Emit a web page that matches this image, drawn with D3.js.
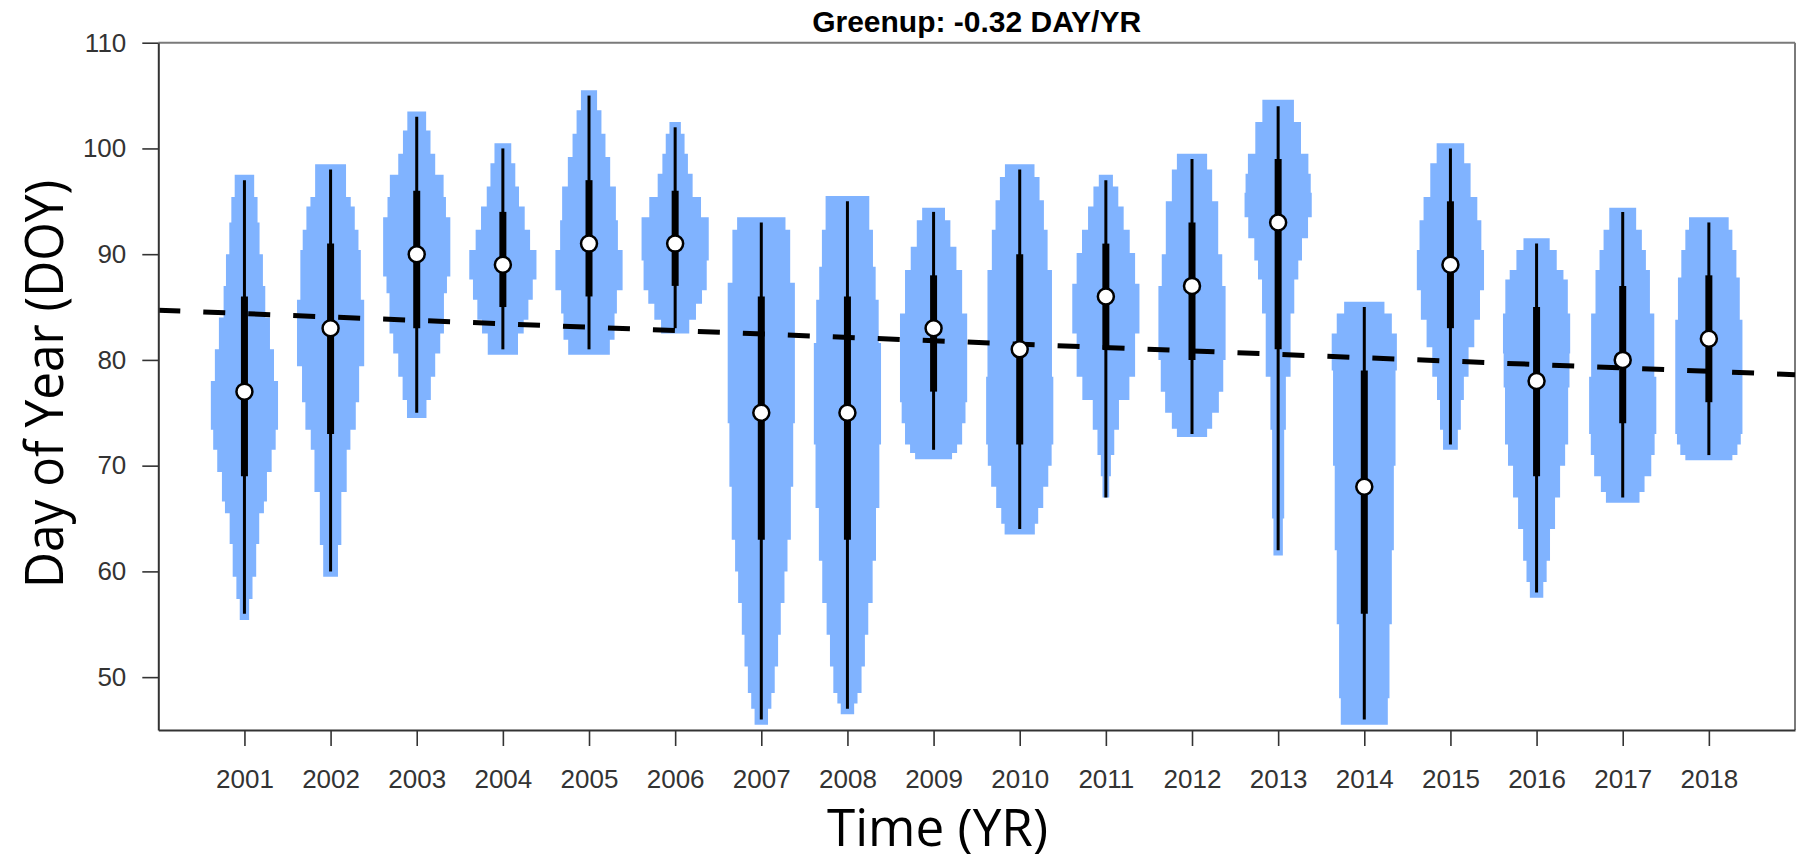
<!DOCTYPE html>
<html>
<head>
<meta charset="utf-8">
<script src="https://cdn.jsdelivr.net/npm/d3@7"></script>
<style>
  html, body { margin: 0; padding: 0; background: #fff; }
  svg { display: block; }
</style>
</head>
<body>
<svg id="chart" width="1805" height="861"></svg>
<script>
// ---------------- DATA ----------------
const years = [2001,2002,2003,2004,2005,2006,2007,2008,2009,2010,2011,2012,2013,2014,2015,2016,2017,2018];
const medians     = [77, 83, 90, 89, 91, 91, 75, 75, 83, 81, 86, 87, 93, 68, 89, 78, 80, 82];
const q3          = [86, 91, 96, 94, 97, 96, 86, 86, 88, 90, 91, 93, 99, 79, 95, 85, 87, 88];
const q1          = [69, 73, 83, 85, 86, 87, 63, 63, 77, 72, 81, 80, 81, 56, 83, 69, 74, 76];
const whiskerHigh = [97, 98, 103, 100, 105, 102, 93, 95, 94, 98, 97, 99, 104, 85, 100, 91, 94, 93];
const whiskerLow  = [56, 60, 75, 81, 81, 83, 46, 47, 71.5, 64, 67, 73, 62, 46, 72, 58, 67, 71];

// violin outlines: [DOY where step starts, relative half-width], last entry = bottom
const violinProfiles = [
  [[97.5,.29],[95.4,.39],[93,.45],[90,.55],[87,.62],[84,.76],[81,.88],[78,1],[73.4,.93],[71.5,.81],[69.4,.67],[66.6,.58],[65.5,.44],[62.6,.35],[59.5,.24],[57.4,.14],[55.4,0]],
  [[98.5,.46],[95.4,.6],[94.5,.72],[92.3,.83],[90.4,.9],[85.7,1],[79.4,.85],[76,.75],[73.4,.59],[71.5,.48],[67.5,.32],[62.5,.22],[59.5,0]],
  [[103.5,.28],[101.7,.41],[99.5,.55],[97.5,.8],[95.4,.87],[93.5,1],[87.9,.9],[86.3,.81],[82.5,.7],[80.6,.55],[78.4,.42],[76.2,.29],[74.5,0]],
  [[100.5,.25],[98.6,.37],[96.4,.48],[94.5,.65],[92.3,.81],[90.4,1],[87.6,.89],[85.7,.76],[83.8,.62],[82.5,.45],[80.5,0]],
  [[105.5,.24],[103.6,.37],[101.4,.49],[99.2,.63],[96.4,.8],[93.2,.86],[90.4,1],[86.6,.83],[84.4,.76],[81.9,.62],[80.5,0]],
  [[102.5,.17],[101.4,.28],[99.5,.38],[97.6,.52],[95.4,.77],[93.5,1],[89.4,.94],[86.6,.8],[85.3,.62],[83.8,.42],[82.5,0]],
  [[93.5,.72],[92.3,.86],[87.3,1],[74,.95],[68,.88],[63,.78],[60,.69],[57,.58],[54,.5],[51,.4],[48.5,.3],[47,.2],[45.5,0]],
  [[95.5,.65],[92.3,.76],[88.8,.84],[85.7,.93],[81.6,1],[72,.95],[66,.85],[61,.75],[57,.62],[54,.52],[51,.42],[48.5,.3],[47.5,.2],[46.5,0]],
  [[94.4,.34],[93.2,.5],[90.7,.68],[88.5,.85],[84.4,1],[76,.95],[74,.85],[72,.7],[71.2,.55],[70.6,0]],
  [[98.5,.44],[97.3,.59],[95.1,.72],[92.3,.83],[88.5,.96],[78.4,1],[72,.95],[70,.85],[68,.7],[66,.55],[64.5,.45],[63.5,0]],
  [[97.5,.21],[96.4,.37],[94.5,.53],[92.3,.71],[90.1,.87],[87.2,1],[82.5,.87],[78.4,.7],[76.2,.39],[73.4,.25],[71,.15],[69,.1],[67,0]],
  [[99.5,.45],[98,.6],[95,.78],[90,.9],[87,1],[80,.93],[77,.8],[75,.6],[73.5,.45],[72.7,0]],
  [[104.6,.47],[102.5,.68],[99.5,.9],[97.6,.97],[95.8,1],[93.5,.89],[91.5,.71],[89.4,.6],[87.6,.48],[84.4,.37],[78.4,.23],[73.4,.18],[65,.14],[61.5,0]],
  [[85.5,.6],[84.4,.82],[82.5,.97],[79,.93],[70,.88],[62,.82],[55,.75],[48,.7],[45.5,0]],
  [[100.5,.41],[98.6,.6],[95.4,.8],[93.2,.92],[90.4,1],[86.6,.88],[83.8,.71],[81.2,.54],[78.4,.4],[76.2,.31],[73.4,.22],[71.5,0]],
  [[91.5,.39],[90.4,.6],[88.5,.8],[87.6,.93],[84.4,1],[80.6,.98],[77.4,.94],[72,.85],[70,.7],[67,.55],[64,.4],[61,.3],[59,.2],[57.5,0]],
  [[94.4,.4],[92.3,.57],[90.4,.69],[88.5,.81],[84.4,.94],[78.4,1],[73,.95],[71,.85],[69,.65],[67.5,.5],[66.5,0]],
  [[93.5,.59],[92.3,.7],[90.4,.82],[87.8,.92],[83.8,1],[73,.95],[72,.85],[71,.7],[70.5,0]]
];

const yTicks = [50, 60, 70, 80, 90, 100, 110];
const trendYears = [2000, 2019];
const trendDOY = [84.7, 78.6];
const titleText = "Greenup: -0.32 DAY/YR";
const xLabel = "Time (YR)";
const yLabel = "Day of Year (DOY)";

// ---------------- LAYOUT ----------------
(function () {
const svg = d3.select("#chart");
const plotL = 158.3, plotR = 1795, plotT = 42.7, plotB = 730;

const x = d3.scaleLinear().domain([2000, 2019]).range([plotL, plotR]);
const y = d3.scaleLinear().domain([45, 110]).range([plotB, plotT]);
const H = (x(2001) - x(2000)) * 0.39;

// frame (top & right)
svg.append("line").attr("x1", plotL).attr("x2", plotR).attr("y1", plotT).attr("y2", plotT)
  .attr("stroke", "#7a7a7a").attr("stroke-width", 2);
svg.append("line").attr("x1", plotR).attr("x2", plotR).attr("y1", plotT).attr("y2", plotB)
  .attr("stroke", "#7a7a7a").attr("stroke-width", 2);

// violins
const line = d3.line();
const gV = svg.append("g");
years.forEach((yr, i) => {
  const prof = violinProfiles[i];
  const cx = x(yr);
  const rightPts = [];
  for (let k = 0; k < prof.length - 1; k++) {
    const w = prof[k][1] * H;
    rightPts.push([cx + w, y(prof[k][0])]);
    rightPts.push([cx + w, y(prof[k + 1][0])]);
  }
  const leftPts = rightPts.map(p => [2 * cx - p[0], p[1]]).reverse();
  gV.append("path")
    .attr("d", line(rightPts.concat(leftPts)) + "Z")
    .attr("fill", "#80b3ff");
});

// trend line
svg.append("path")
  .attr("d", line(trendYears.map((t, i) => [x(t), y(trendDOY[i])])))
  .attr("fill", "none").attr("stroke", "#000").attr("stroke-width", 5)
  .attr("stroke-dasharray", "22,23");

// box elements
const gB = svg.append("g");
years.forEach((yr, i) => {
  const cx = x(yr);
  gB.append("line").attr("x1", cx).attr("x2", cx)
    .attr("y1", y(whiskerHigh[i])).attr("y2", y(whiskerLow[i]))
    .attr("stroke", "#000").attr("stroke-width", 3);
  gB.append("line").attr("x1", cx).attr("x2", cx)
    .attr("y1", y(q3[i])).attr("y2", y(q1[i]))
    .attr("stroke", "#000").attr("stroke-width", 7);
});
years.forEach((yr, i) => {
  gB.append("circle").attr("cx", x(yr)).attr("cy", y(medians[i])).attr("r", 8)
    .attr("fill", "#fff").attr("stroke", "#000").attr("stroke-width", 2.5);
});

// axes
const yAxis = d3.axisLeft(y).tickValues(yTicks).tickSize(16).tickSizeOuter(0).tickPadding(16);
const gy = svg.append("g").attr("transform", `translate(${plotL},0)`).call(yAxis);
const xAxis = d3.axisBottom(x).tickValues(years).tickFormat(d3.format("d"))
  .tickSize(16).tickSizeOuter(0).tickPadding(23.5);
const gx = svg.append("g").attr("transform", `translate(0,${plotB})`).call(xAxis);

[gx, gy].forEach(g => {
  g.select(".domain").attr("stroke", "#333").attr("stroke-width", 2);
  g.selectAll(".tick line").attr("stroke", "#333").attr("stroke-width", 1.6);
  g.selectAll(".tick text")
    .attr("fill", "#333")
    .style("font-family", "'Liberation Sans', Arial, sans-serif")
    .style("font-size", "26px");
});

// title
svg.append("text")
  .attr("x", (plotL + plotR) / 2).attr("y", 32)
  .attr("text-anchor", "middle")
  .style("font-family", "'Liberation Sans', Arial, sans-serif")
  .style("font-weight", "bold").style("font-size", "30px")
  .attr("fill", "#000")
  .text(titleText);

// axis titles
svg.append("text")
  .attr("x", 827).attr("y", 846)
  .attr("textLength", 221).attr("lengthAdjust", "spacingAndGlyphs")
  .style("font-family", "'Open Sans', 'Noto Sans', sans-serif")
  .style("font-size", "51px").attr("fill", "#000")
  .text(xLabel);

svg.append("text")
  .attr("transform", "translate(63,588) rotate(-90)")
  .attr("textLength", 408).attr("lengthAdjust", "spacingAndGlyphs")
  .style("font-family", "'Open Sans', 'Noto Sans', sans-serif")
  .style("font-size", "53px").attr("fill", "#000")
  .text(yLabel);
})();
</script>
</body>
</html>
